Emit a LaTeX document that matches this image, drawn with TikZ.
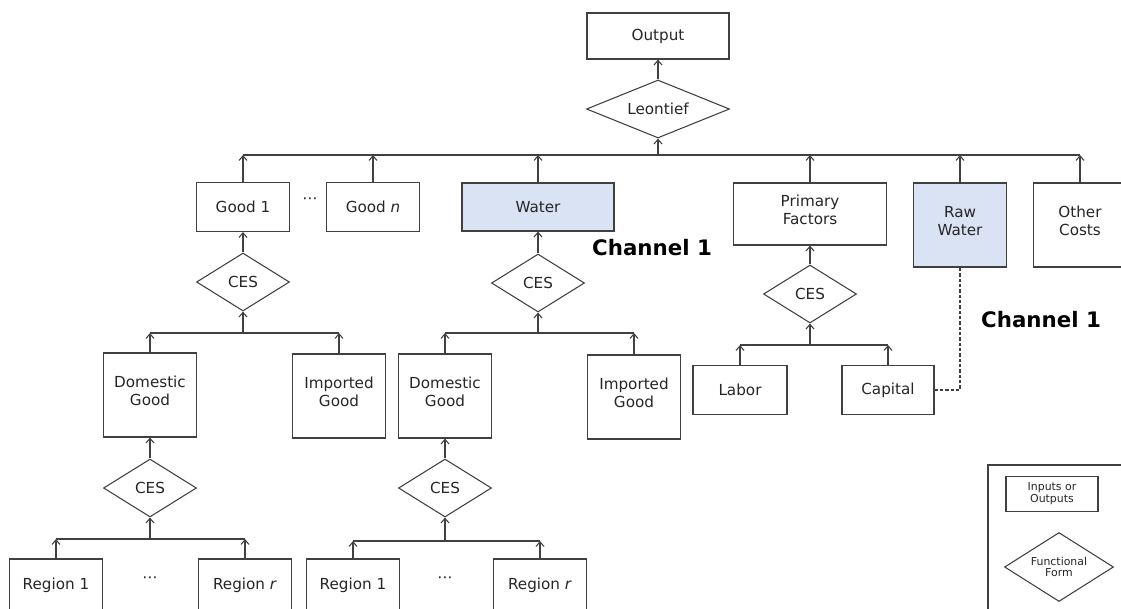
\documentclass[tikz,border=0pt]{standalone}
\usepackage{fontspec}
\setmainfont{DejaVu Sans}
\usepackage{xcolor}
\usetikzlibrary{shapes.geometric, arrows.meta, positioning}

\definecolor{lineGray}{HTML}{404040}
\definecolor{waterBlue}{HTML}{DAE3F3}
\definecolor{textDark}{HTML}{262626}

\newcommand{\pxu}{0.75pt}
% extra depth under a two-line label, lifts the text a little
\newcommand{\lowpad}{\rule[-6pt]{0pt}{6pt}}

\tikzset{
  inout/.style={draw=lineGray, line width=0.8pt, fill=white, align=center,
    text=textDark, font=\fontsize{11.4}{13.5}\selectfont, inner sep=2pt},
  funcform/.style={diamond, draw=lineGray, line width=0.8pt, fill=white,
    align=center, text=textDark, aspect=1.6, inner sep=1pt,
    font=\fontsize{11.4}{13.5}\selectfont},
  upArrow/.style={draw=lineGray, line width=0.8pt,
    -{Straight Barb[length=3.5pt,width=6pt]}},
  busLine/.style={draw=lineGray, line width=0.8pt},
  dotsLabel/.style={text=textDark, font=\fontsize{11.4}{13}\selectfont},
  chLabel/.style={text=black, font=\bfseries\fontsize{16}{18}\selectfont},
}

\begin{document}
\begin{tikzpicture}[x=0.75pt, y=-0.75pt]
    \useasboundingbox (0,0) rectangle (1121,608);
    \clip (0,0) rectangle (1121,608);

    % Top: output and Leontief nest
    \node[inout, minimum width=142*\pxu, minimum height=46*\pxu] (output) at (658,36) {Output};
    \node[funcform, aspect=2.4, minimum width=143*\pxu, minimum height=58*\pxu] (leontief) at (658,109) {Leontief};
    \coordinate (topbus) at (658,155);

    % Row 1: inputs to Leontief
    \node[inout, minimum width=93*\pxu, minimum height=49*\pxu] (good1) at (243,207) {Good 1};
    \node[dotsLabel] (gooddots) at (310,201) {⋯};
    \node[inout, minimum width=93*\pxu, minimum height=49*\pxu] (goodn) at (373,207) {Good \textit{n}};
    \node[inout, fill=waterBlue, minimum width=152*\pxu, minimum height=48*\pxu] (water) at (538,207) {Water};
    \node[inout, minimum width=153*\pxu, minimum height=62*\pxu] (primary) at (810,214) {Primary\\Factors\lowpad};
    \node[inout, fill=waterBlue, minimum width=93*\pxu, minimum height=84*\pxu] (rawwater) at (960,225) {Raw\\Water\lowpad};
    \node[inout, minimum width=93*\pxu, minimum height=84*\pxu] (othercosts) at (1080,225) {Other\\Costs\lowpad};

    \draw[upArrow] (leontief.north) -- (output.south);
    \draw[upArrow] (topbus) -- (leontief.south);
    \draw[busLine] (good1.north |- topbus) -- (othercosts.north |- topbus);
    \draw[upArrow] (good1.north) -- (good1.north |- topbus);
    \draw[upArrow] (goodn.north) -- (goodn.north |- topbus);
    \draw[upArrow] (water.north) -- (water.north |- topbus);
    \draw[upArrow] (primary.north) -- (primary.north |- topbus);
    \draw[upArrow] (rawwater.north) -- (rawwater.north |- topbus);
    \draw[upArrow] (othercosts.north) -- (othercosts.north |- topbus);

    % Channel labels
    \node[chLabel] (chwater) at (652,248) {Channel 1};
    \node[chLabel] (chraw) at (1041,320) {Channel 1};

    % Good 1 branch
    \node[funcform, minimum width=93*\pxu, minimum height=58*\pxu] (cesgood) at (243,282) {CES};
    \coordinate (goodbus) at (243,333);
    \node[inout, minimum width=93*\pxu, minimum height=84*\pxu] (domgood) at (150,395) {Domestic\\Good\lowpad};
    \node[inout, minimum width=93*\pxu, minimum height=84*\pxu] (impgood) at (339,396) {Imported\\Good\lowpad};
    \draw[upArrow] (cesgood.north) -- (good1.south);
    \draw[upArrow] (goodbus) -- (cesgood.south);
    \draw[busLine] (domgood.north |- goodbus) -- (impgood.north |- goodbus);
    \draw[upArrow] (domgood.north) -- (domgood.north |- goodbus);
    \draw[upArrow] (impgood.north) -- (impgood.north |- goodbus);

    \node[funcform, minimum width=93*\pxu, minimum height=58*\pxu] (cesdomgood) at (150,488) {CES};
    \coordinate (domgoodbus) at (150,539);
    \node[inout, minimum width=93*\pxu, minimum height=52*\pxu] (goodreg1) at (56,585) {Region 1};
    \node[dotsLabel] (goodregdots) at (150,580) {⋯};
    \node[inout, minimum width=93*\pxu, minimum height=52*\pxu] (goodregr) at (245,585) {Region \textit{r}};
    \draw[upArrow] (cesdomgood.north) -- (domgood.south);
    \draw[upArrow] (domgoodbus) -- (cesdomgood.south);
    \draw[busLine] (goodreg1.north |- domgoodbus) -- (goodregr.north |- domgoodbus);
    \draw[upArrow] (goodreg1.north) -- (goodreg1.north |- domgoodbus);
    \draw[upArrow] (goodregr.north) -- (goodregr.north |- domgoodbus);

    % Water branch
    \node[funcform, minimum width=93*\pxu, minimum height=58*\pxu] (ceswater) at (538,283) {CES};
    \coordinate (waterbus) at (538,333);
    \node[inout, minimum width=93*\pxu, minimum height=84*\pxu] (domwater) at (445,396) {Domestic\\Good\lowpad};
    \node[inout, minimum width=93*\pxu, minimum height=84*\pxu] (impwater) at (634,397) {Imported\\Good\lowpad};
    \draw[upArrow] (ceswater.north) -- (water.south);
    \draw[upArrow] (waterbus) -- (ceswater.south);
    \draw[busLine] (domwater.north |- waterbus) -- (impwater.north |- waterbus);
    \draw[upArrow] (domwater.north) -- (domwater.north |- waterbus);
    \draw[upArrow] (impwater.north) -- (impwater.north |- waterbus);

    \node[funcform, minimum width=93*\pxu, minimum height=58*\pxu] (cesdomwater) at (445,488) {CES};
    \coordinate (domwaterbus) at (445,541);
    \node[inout, minimum width=93*\pxu, minimum height=52*\pxu] (waterreg1) at (353,585) {Region 1};
    \node[dotsLabel] (waterregdots) at (445,580) {⋯};
    \node[inout, minimum width=93*\pxu, minimum height=52*\pxu] (waterregr) at (540,585) {Region \textit{r}};
    \draw[upArrow] (cesdomwater.north) -- (domwater.south);
    \draw[upArrow] (domwaterbus) -- (cesdomwater.south);
    \draw[busLine] (waterreg1.north |- domwaterbus) -- (waterregr.north |- domwaterbus);
    \draw[upArrow] (waterreg1.north) -- (waterreg1.north |- domwaterbus);
    \draw[upArrow] (waterregr.north) -- (waterregr.north |- domwaterbus);

    % Primary factors branch
    \node[funcform, minimum width=93*\pxu, minimum height=58*\pxu] (cesprimary) at (810,294) {CES};
    \coordinate (primarybus) at (810,345);
    \node[inout, minimum width=94*\pxu, minimum height=49*\pxu] (labor) at (740,390) {Labor};
    \node[inout, minimum width=92*\pxu, minimum height=49*\pxu] (capital) at (888,390) {Capital};
    \draw[upArrow] (cesprimary.north) -- (primary.south);
    \draw[upArrow] (primarybus) -- (cesprimary.south);
    \draw[busLine] (labor.north |- primarybus) -- (capital.north |- primarybus);
    \draw[upArrow] (labor.north) -- (labor.north |- primarybus);
    \draw[upArrow] (capital.north) -- (capital.north |- primarybus);

    % Raw water linked to capital
    \draw[draw=lineGray, line width=0.8pt, dash pattern=on 2.5pt off 1.5pt]
      (capital.east) -| (rawwater.south);

    % Legend
    \node[draw=lineGray, line width=0.8pt, minimum width=140*\pxu, minimum height=150*\pxu] (legend) at (1058,540) {};
    \node[inout, font=\fontsize{8.2}{8.8}\selectfont, minimum width=92*\pxu, minimum height=35*\pxu] (legbox) at (1052,494) {Inputs or\\Outputs};
    \node[funcform, font=\fontsize{8.2}{8.8}\selectfont, minimum width=109*\pxu, minimum height=69*\pxu] (legdiamond) at (1059,567) {Functional\\Form};
\end{tikzpicture}
\end{document}
